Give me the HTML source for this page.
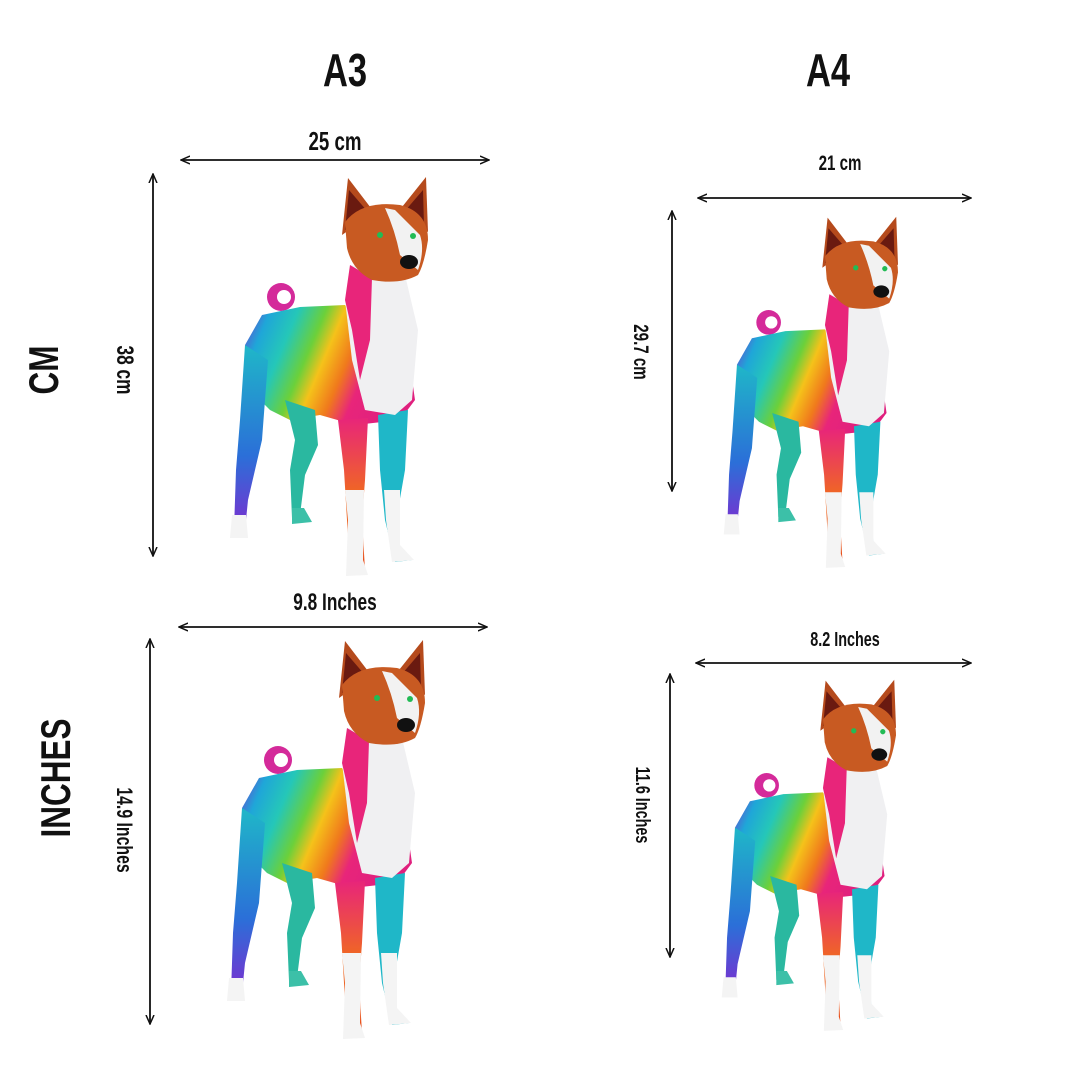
<!DOCTYPE html>
<html><head><meta charset="utf-8"><style>
html,body{margin:0;padding:0;background:#fff;}
svg{display:block}
.t{font-family:"Liberation Sans",sans-serif;font-weight:bold;fill:#111}
</style></head><body>
<svg width="1080" height="1080" viewBox="0 0 1080 1080" xmlns="http://www.w3.org/2000/svg">
<defs>
<marker id="a" markerWidth="10" markerHeight="10" refX="9" refY="5" orient="auto-start-reverse" markerUnits="userSpaceOnUse"><path d="M0,1 L9,5 L0,9" fill="none" stroke="#111" stroke-width="1.5"/></marker>
<linearGradient id="rb" x1="0" y1="0" x2="1" y2="0.3">
<stop offset="0" stop-color="#7a2fd0"/><stop offset="0.15" stop-color="#1fa6d8"/><stop offset="0.3" stop-color="#25c7b8"/><stop offset="0.45" stop-color="#6cd03a"/><stop offset="0.55" stop-color="#f5c21a"/><stop offset="0.68" stop-color="#f07a1c"/><stop offset="0.8" stop-color="#e8257a"/><stop offset="1" stop-color="#e0207e"/></linearGradient>
<linearGradient id="lg" x1="0" y1="0" x2="0" y2="1"><stop offset="0" stop-color="#e8257a"/><stop offset="0.5" stop-color="#f06a20"/><stop offset="1" stop-color="#e64a1a"/></linearGradient>
<linearGradient id="lg2" x1="0" y1="0" x2="0" y2="1"><stop offset="0" stop-color="#1fb7c8"/><stop offset="0.6" stop-color="#2b6fd8"/><stop offset="1" stop-color="#7a2fd0"/></linearGradient>
<g id="dog">
<circle cx="281" cy="297" r="14" fill="#d42a9a"/>
<circle cx="284" cy="297" r="7" fill="#fff"/>
<polygon points="262,315 300,307 345,305 362,330 405,330 415,400 400,420 355,425 320,415 290,420 270,410 255,395 245,345" fill="url(#rb)"/>
<polygon points="245,345 268,360 262,440 248,500 245,530 234,530 236,470 240,420" fill="url(#lg2)"/>
<polygon points="285,400 315,410 318,445 305,475 300,515 292,518 290,470 295,440" fill="#2ab8a0"/>
<polygon points="338,420 368,418 365,480 362,520 365,570 350,575 347,520 344,470" fill="url(#lg)"/>
<polygon points="345,490 364,490 363,560 368,575 346,576 348,520" fill="#f4f4f4"/>
<polygon points="378,415 408,410 405,470 398,510 400,550 412,560 395,562 385,520 380,470" fill="#1fb7c8"/>
<polygon points="384,490 400,490 400,545 414,560 392,562 386,520" fill="#f4f4f4"/>
<polygon points="232,515 246,515 248,538 230,538" fill="#f4f4f4"/>
<polygon points="292,508 304,508 312,522 292,524" fill="#3cc0a8"/>
<polygon points="350,265 405,275 418,330 412,400 395,415 365,410 352,360 345,300" fill="#f0f0f2"/>
<polygon points="350,265 372,278 370,340 360,380 352,330 345,300" fill="#e8257a"/>
<polygon points="342,235 348,178 374,212" fill="#b54a1c"/>
<polygon points="345,230 349,190 368,212" fill="#6a1a10"/>
<polygon points="398,212 426,177 428,232" fill="#b54a1c"/>
<polygon points="404,212 423,190 424,225" fill="#6a1a10"/>
<path d="M345,222 Q362,200 400,205 Q428,212 428,240 Q424,265 418,275 Q400,285 372,280 Q352,270 347,248 Z" fill="#c85a22"/>
<path d="M385,208 Q395,230 400,255 L418,270 Q425,250 420,235 Q410,225 395,210 Z" fill="#f2f2f2"/>
<ellipse cx="409" cy="262" rx="9" ry="7" fill="#111"/>
<circle cx="380" cy="235" r="3" fill="#2b5"/><circle cx="413" cy="236" r="3" fill="#2b5"/>
</g>
</defs>
<text class="t" x="345" y="86" font-size="46" text-anchor="middle" transform="translate(345 0) scale(0.75 1) translate(-345 0)">A3</text>
<text class="t" x="828" y="86" font-size="46" text-anchor="middle" transform="translate(828 0) scale(0.75 1) translate(-828 0)">A4</text>
<text class="t" font-size="42" text-anchor="middle" transform="translate(58 370) rotate(-90) scale(0.75 1)">CM</text>
<text class="t" font-size="42" text-anchor="middle" transform="translate(70 778) rotate(-90) scale(0.75 1)">INCHES</text>

<g stroke="#111" stroke-width="1.8" marker-start="url(#a)" marker-end="url(#a)">
<line x1="181" y1="160" x2="489" y2="160"/>
<line x1="153" y1="174" x2="153" y2="556"/>
<line x1="698" y1="198" x2="971" y2="198"/>
<line x1="672" y1="211" x2="672" y2="491"/>
<line x1="179" y1="627" x2="487" y2="627"/>
<line x1="150" y1="639" x2="150" y2="1024"/>
<line x1="696" y1="663" x2="971" y2="663"/>
<line x1="670" y1="674" x2="670" y2="957"/>
</g>
<g class="t" font-size="26" text-anchor="middle">
<text transform="translate(335 150) scale(0.72 1)">25 cm</text>
<text transform="translate(840 170) scale(0.72 1)" font-size="21">21 cm</text>
<text transform="translate(335 610) scale(0.72 1)" font-size="24">9.8  Inches</text>
<text transform="translate(845 646) scale(0.72 1)" font-size="20">8.2  Inches</text>
<text transform="translate(117 370) rotate(90) scale(0.72 1)" font-size="24">38 cm</text>
<text transform="translate(634 352) rotate(90) scale(0.72 1)" font-size="21">29.7 cm</text>
<text transform="translate(117 830) rotate(90) scale(0.72 1)" font-size="22">14.9 Inches</text>
<text transform="translate(636 805) rotate(90) scale(0.72 1)" font-size="20">11.6 Inches</text>
</g>
<use href="#dog"/>
<use href="#dog" transform="translate(722 215) scale(0.88) translate(-228 -175)"/>
<use href="#dog" transform="translate(-3 463)"/>
<use href="#dog" transform="translate(720 678) scale(0.88) translate(-228 -175)"/>
</svg>
</body></html>
